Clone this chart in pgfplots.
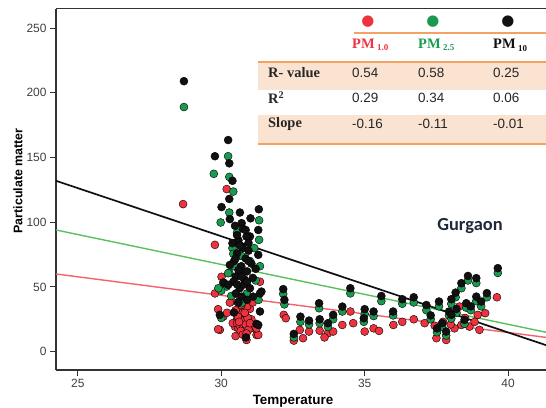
\documentclass[border=0pt]{standalone}
\usepackage{pgfplots}
\pgfplotsset{compat=1.18}
\usepackage{fontspec}
\setmainfont{Liberation Sans}
\newfontfamily\serifb{Liberation Serif}
\newfontfamily\carlito{Carlito}
\newfontfamily\dejavu{DejaVu Sans}
\definecolor{pmred}{HTML}{EE3340}
\definecolor{pmgreen}{HTML}{1A9A50}
\definecolor{pmblack}{HTML}{111111}
\definecolor{lred}{HTML}{F0646E}
\definecolor{lgreen}{HTML}{5CBF5E}
\definecolor{peach}{HTML}{FBE3D2}
\definecolor{orangeline}{HTML}{F3A262}
\definecolor{tickgray}{HTML}{404040}
\definecolor{axisgray}{HTML}{333333}
\definecolor{gurg}{HTML}{1E2838}
\begin{document}
\begin{tikzpicture}
\path[use as bounding box] (0bp,0bp) rectangle (546bp,408bp);
\begin{axis}[
  at={(56bp,38bp)}, anchor=south west,
  scale only axis, width=490bp, height=361.3bp,
  xmin=24.24, xmax=41.32, ymin=-14.2, ymax=265,
  axis x line*=bottom, axis y line*=left,
  axis line style={-, line width=1.5bp, axisgray},
  xtick={25,30,35,40}, ytick={0,50,100,150,200,250},
  tick align=outside, major tick length=6bp,
  tick style={axisgray, line width=1bp},
  /pgf/number format/assume math mode=true,
  tick label style={font=\fontsize{12}{12}\selectfont, text=tickgray},
  mark size=4bp,
]
% PM 1.0 (red)
\addplot[only marks, mark=*, mark options={draw=none, fill=pmred}] coordinates {
(28.67,114) (30.19,125.6) (29.78,82.5) (30.01,57.8) (29.78,45) (30.36,38.7) (30.30,37.9)
(29.89,32.8) (30.07,27) (29.95,16.8) (29.89,17.3) (30.48,19.3) (31.23,12.9) (31.29,12.9)
(30.88,9) (31.35,54) (30.55,25) (30.65,30) (30.75,22) (30.85,28) (30.95,20) (31.05,25)
(30.6,18) (30.7,32) (31.0,33) (30.8,15) (30.5,12) (31.15,18) (31.23,18) (30.4,22)
(30.9,35) (30.65,40) (31.1,38) (30.2,30) (30.7,26) (30.8,24) (30.6,28) (30.9,23) (30.75,30)
(30.55,22) (30.65,20) (30.72,24) (30.78,19) (30.85,21) (30.92,26) (30.68,16) (30.58,27)
(30.82,30) (30.95,17) (31.0,22) (30.62,23) (30.75,13) (30.88,14) (30.7,36) (30.5,32)
(32.18,28.4) (32.25,25.8) (32.74,16.8) (32.53,8.5) (32.85,10.4) (33.06,15.5) (33.43,16.2)
(33.72,14.2) (33.9,15.5) (34.22,20.6) (34.5,31) (35.0,15.5) (35.31,18) (36.0,20.6)
(36.31,23) (36.71,25) (37.09,22) (37.44,20) (37.5,10.4) (37.84,9) (37.73,23) (38.3,34.8)
(38.37,20.6) (38.65,19.3) (38.83,23) (39.0,16.8) (39.2,29.7) (39.61,42) (38.13,18)
(38.94,28.4) (33.6,11) (34.6,22) (35.5,16) (38.0,21) (38.5,26)
};
% PM 2.5 (green)
\addplot[only marks, mark=*, mark options={draw=none, fill=pmgreen}] coordinates {
(28.70,189) (30.24,151) (29.74,137.4) (30.28,135) (30.42,123.7) (30.28,107.5) (29.98,99.8)
(31.32,101.5) (31.32,86.4) (30.53,84.3) (30.39,80) (30.42,75.6) (30.28,61) (30.24,60.6)
(30.19,50.3) (30.59,37.9) (30.71,37.4) (30.1,53) (30.0,47) (30.35,43) (30.9,45) (31.2,55)
(31.0,70) (30.55,92) (30.7,74) (31.15,80) (30.8,62) (30.45,66)
(31.3,40) (30.0,26) (29.9,49) (31.35,66)
(32.16,44.6) (32.2,36.5) (32.53,11) (32.76,23) (33.06,21) (33.41,33.5) (33.43,22)
(33.72,19) (33.9,25) (34.22,31) (34.5,45) (34.97,23) (35.0,29) (35.31,27.5) (35.58,39)
(35.99,28) (36.31,37) (36.71,38) (37.15,32) (37.59,35) (37.52,15) (37.84,12.5) (37.94,28)
(38.02,37) (38.02,25.5) (38.17,42) (38.37,49) (38.48,21.5) (38.54,34) (38.6,55) (38.89,53)
(38.89,39) (39.06,35) (39.26,42) (39.64,60.8) (38.2,30) (38.7,32) (37.7,19) (37.3,25)
};
% PM 10 (black)
\addplot[only marks, mark=*, mark options={draw=none, fill=pmblack}] coordinates {
(28.70,209) (30.24,163.5) (29.78,151) (30.28,145.5) (30.39,132) (30.28,118) (30.01,111.7)
(30.65,107.5) (31.31,110) (30.30,102.4) (31.02,103) (30.48,97.2) (30.71,99.3) (31.29,94)
(31.0,89) (30.88,88.9) (30.39,83.8) (30.60,86) (30.75,80) (30.95,78) (30.55,76) (31.29,74.8)
(30.85,72) (30.45,70) (30.30,67) (30.70,66) (31.05,68) (31.2,64) (30.63,60.6) (30.9,62)
(30.5,58) (31.1,57) (30.07,53.4) (30.42,54) (30.24,51.6) (30.65,49) (31.0,49) (30.8,52)
(31.40,46.4) (30.51,45) (31.35,45) (30.71,42.5) (31.11,42.5) (30.9,40) (30.6,38)
(31.35,31) (30.44,30.2) (29.95,28.4) (31.23,21.4) (31.29,20.6)
(30.86,11) (30.75,95) (30.95,84) (30.6,63) (30.8,56)
(30.55,90) (30.85,94) (30.65,82) (30.5,72) (30.95,70) (30.7,58) (30.55,52) (30.9,54)
(32.16,48.3) (32.2,40) (32.53,13.7) (32.76,27) (33.06,24) (33.41,37.4) (33.43,25) (33.72,22)
(33.9,28.4) (34.22,34.8) (34.5,49) (34.97,25.8) (35.0,32.8) (35.31,31) (35.58,43) (35.99,31)
(36.31,40.5) (36.71,42) (37.15,36) (37.59,38.7) (37.52,18) (37.84,15.5) (37.94,31) (38.02,40.5)
(38.02,28.4) (38.17,45.6) (38.37,52.9) (38.48,24.5) (38.54,37.4) (38.6,58.5) (38.89,56.8)
(38.89,42.5) (39.06,38.7) (39.26,45.2) (39.64,64.5) (38.2,33) (38.7,35) (37.7,22) (37.3,28)
};
% regression lines
\addplot[lred, line width=1.4bp] coordinates {(24.24,60) (41.32,11)};
\addplot[lgreen, line width=1.4bp] coordinates {(24.24,94) (41.32,15)};
\addplot[pmblack, line width=1.7bp] coordinates {(24.24,132) (41.32,5)};
\draw[axisgray, line width=1.5bp] (rel axis cs:0,1) -- (rel axis cs:1,1);
\end{axis}
% axis labels
\node[font=\bfseries\fontsize{13.5}{13.5}\selectfont] at (293bp,7bp) {Temperature};
\node[font=\bfseries\fontsize{12.5}{12.5}\selectfont, rotate=90] at (18bp,227bp) {Particulate matter};
% location label
\node[font=\carlito\bfseries\fontsize{18.5}{18.5}\selectfont, text=gurg] at (470bp,182bp) {Gurgaon};
% table
\fill[white] (258bp,264bp) rectangle (546bp,346bp);
\fill[peach] (258bp,318bp) rectangle (546bp,346bp);
\fill[peach] (258bp,265bp) rectangle (546bp,293bp);
\draw[orangeline, line width=1.5bp] (354bp,375bp) -- (546bp,375bp);
\draw[orangeline, line width=2bp] (258bp,346bp) -- (546bp,346bp);
\draw[orangeline, line width=1.5bp] (258bp,264bp) -- (546bp,264bp);
\node[font=\dejavu\fontsize{15}{15}\selectfont, text=pmred] at (368bp,386.3bp) {●};
\node[font=\dejavu\fontsize{15}{15}\selectfont, text=pmgreen] at (433bp,386.3bp) {●};
\node[font=\dejavu\fontsize{15}{15}\selectfont, text=pmblack] at (508bp,386.3bp) {●};
\node[anchor=west, inner sep=0, text=pmred, font=\serifb\bfseries\fontsize{14.5}{14.5}\selectfont] at (352bp,363bp) {PM\,\raisebox{-0.4ex}{\fontsize{9}{9}\selectfont 1.0}};
\node[anchor=west, inner sep=0, text=pmgreen, font=\serifb\bfseries\fontsize{14.5}{14.5}\selectfont] at (418bp,363bp) {PM\,\raisebox{-0.4ex}{\fontsize{9}{9}\selectfont 2.5}};
\node[anchor=west, inner sep=0, text=pmblack, font=\serifb\bfseries\fontsize{14.5}{14.5}\selectfont] at (493bp,363bp) {PM\,\raisebox{-0.4ex}{\fontsize{9}{9}\selectfont 10}};
\begin{scope}[every node/.style={anchor=west, inner sep=0}]
\node[font=\serifb\bfseries\fontsize{14.5}{14.5}\selectfont, text=black!85] at (268bp,335bp) {R- value};
\node[font=\serifb\bfseries\fontsize{14.5}{14.5}\selectfont, text=black!85] at (268bp,310bp) {R\textsuperscript{2}};
\node[font=\serifb\bfseries\fontsize{14.5}{14.5}\selectfont, text=black!85] at (268bp,284bp) {Slope};
\node[font=\fontsize{13.5}{13.5}\selectfont, text=black!85] at (352bp,335bp) {0.54};
\node[font=\fontsize{13.5}{13.5}\selectfont, text=black!85] at (418bp,335bp) {0.58};
\node[font=\fontsize{13.5}{13.5}\selectfont, text=black!85] at (493bp,335bp) {0.25};
\node[font=\fontsize{13.5}{13.5}\selectfont, text=black!85] at (352bp,310bp) {0.29};
\node[font=\fontsize{13.5}{13.5}\selectfont, text=black!85] at (418bp,310bp) {0.34};
\node[font=\fontsize{13.5}{13.5}\selectfont, text=black!85] at (493bp,310bp) {0.06};
\node[font=\fontsize{13.5}{13.5}\selectfont, text=black!85] at (352bp,284bp) {-0.16};
\node[font=\fontsize{13.5}{13.5}\selectfont, text=black!85] at (418bp,284bp) {-0.11};
\node[font=\fontsize{13.5}{13.5}\selectfont, text=black!85] at (493bp,284bp) {-0.01};
\end{scope}
\end{tikzpicture}
\end{document}
